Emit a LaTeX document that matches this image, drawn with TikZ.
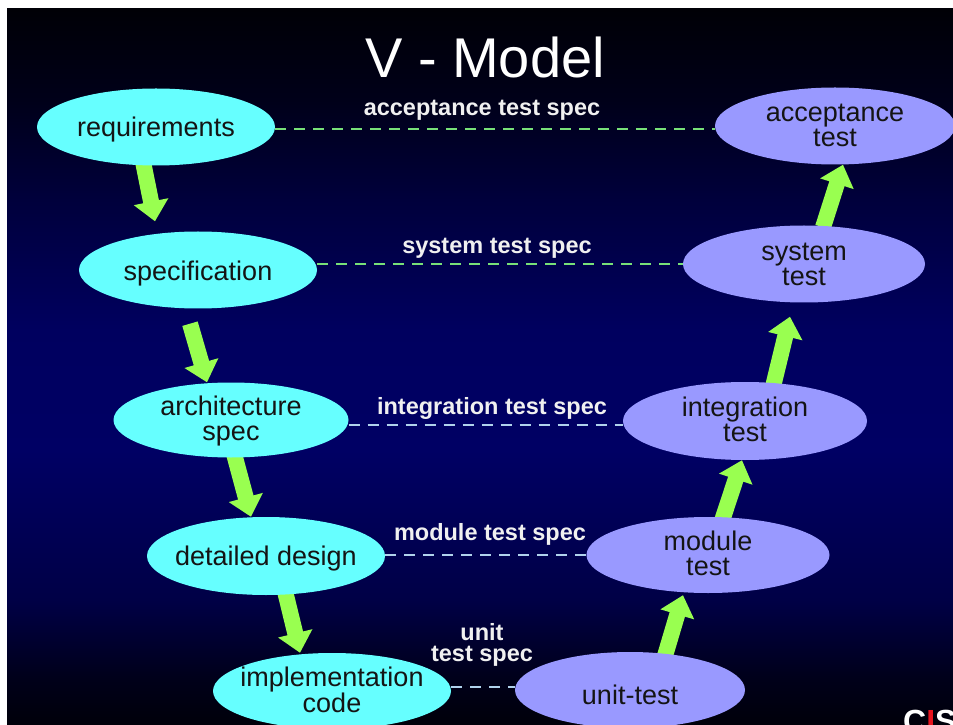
\documentclass[tikz,border=0pt]{standalone}
\usepackage{fontspec}
\setmainfont{Liberation Sans}
\usetikzlibrary{shapes.geometric,arrows.meta}

% palette
\definecolor{cyanfill}{RGB}{102,255,255}
\definecolor{lilacfill}{RGB}{153,153,255}
\definecolor{limearrow}{RGB}{153,255,80}
\definecolor{greendash}{RGB}{120,224,120}
\definecolor{bluedash}{RGB}{176,210,236}
\definecolor{labelgrey}{RGB}{240,240,240}
\definecolor{cisred}{RGB}{230,20,30}
% background stops, bottom to top
\definecolor{bgA}{RGB}{0,0,10}
\definecolor{bgB}{RGB}{0,0,25}
\definecolor{bgC}{RGB}{0,0,70}
\definecolor{bgD}{RGB}{0,0,100}
\definecolor{bgE}{RGB}{0,0,95}
\definecolor{bgF}{RGB}{0,0,60}
\definecolor{bgG}{RGB}{0,0,25}
\definecolor{bgH}{RGB}{0,0,6}

\pgfdeclareverticalshading{vmodelbg}{100bp}{%
  color(0bp)=(bgA); color(25bp)=(bgA); color(28.08bp)=(bgB);
  color(33.67bp)=(bgC); color(44.16bp)=(bgD); color(52.55bp)=(bgE);
  color(61.64bp)=(bgF); color(68.64bp)=(bgG); color(75bp)=(bgH);
  color(100bp)=(bgH)}

\pgfdeclarelayer{bg}
\pgfdeclarelayer{links}
\pgfsetlayers{bg,links,main}

\begin{document}
\begin{tikzpicture}[x=1pt,y=1pt,
  phase/.style={ellipse, fill=cyanfill, inner sep=0pt,
    minimum width=238pt, minimum height=77pt},
  testphase/.style={phase, fill=lilacfill},
  phasetext/.style={inner sep=0pt, align=center, text=black!92,
    font=\fontsize{27}{25}\selectfont},
  speclabel/.style={inner sep=0pt, align=center, text=labelgrey,
    font=\bfseries\fontsize{23.5}{21}\selectfont},
  specline/.style={line width=2pt, dash pattern=on 11pt off 8pt},
  flow/.style={draw=limearrow, line width=16pt,
    -{Triangle[length=20pt,width=34pt]}}]

\useasboundingbox (0,0) rectangle (953,724);

% page margin and graded backdrop
\begin{pgfonlayer}{bg}
  \fill[white] (0,0) rectangle (953,724);
  \shade[shading=vmodelbg] (7,0) rectangle (953,715);
\end{pgfonlayer}

% title
\node[inner sep=0pt, anchor=base, text=white,
  font=\fontsize{56}{60}\selectfont] (title) at (485,646) {V - Model};

% development phases (left leg)
\node[phase] (req) at (156,597) {};
\node[phase] (spec) at (198,454) {};
\node[phase, minimum width=235pt, minimum height=75pt] (arch) at (231,304) {};
\node[phase, minimum height=78pt] (det) at (266,168) {};
\node[phase, minimum height=76pt] (impl) at (332,33) {};

% test phases (right leg)
\node[testphase, minimum width=240pt] (acc) at (835,598) {};
\node[testphase, minimum width=242pt] (sys) at (804,460) {};
\node[testphase, minimum width=244pt, minimum height=78pt] (integ) at (745,303) {};
\node[testphase, minimum width=243pt, minimum height=76pt] (mod) at (708,169) {};
\node[testphase, minimum width=230pt, minimum height=76pt] (unit) at (630,34) {};

% phase names
\node[phasetext] (req-t) at ([yshift=-3pt]req.center) {requirements};
\node[phasetext] (spec-t) at ([yshift=-4pt]spec.center) {specification};
\node[phasetext] (arch-t) at ([yshift=-1pt]arch.center) {architecture\\spec};
\node[phasetext] (det-t) at ([yshift=-3pt]det.center) {detailed design};
\node[phasetext] (impl-t) at ([yshift=1pt]impl.center) {implementation\\code};
\node[phasetext] (acc-t) at ([yshift=1pt]acc.center) {acceptance\\test};
\node[phasetext] (sys-t) at ([yshift=0pt]sys.center) {system\\test};
\node[phasetext] (integ-t) at ([yshift=2pt]integ.center) {integration\\test};
\node[phasetext] (mod-t) at ([yshift=2pt]mod.center) {module\\test};
\node[phasetext] (unit-t) at ([yshift=-5pt]unit.center) {unit-test};

% test specifications linking each level
\node[speclabel] (acc-spec) at (482,614) {acceptance test spec};
\node[speclabel] (sys-spec) at (497,476) {system test spec};
\node[speclabel] (integ-spec) at (492,316) {integration test spec};
\node[speclabel] (mod-spec) at (490,190) {module test spec};
\node[speclabel] (unit-spec) at (482,79) {unit\\test spec};

\begin{pgfonlayer}{links}
  \coordinate (unit-in) at ([yshift=3pt]unit.west);
  \draw[specline, greendash] ([yshift=-2pt]req.east) -- ([yshift=-3pt]acc.west);
  \draw[specline, greendash] (spec.east |- sys.west) -- (sys.west);
  \draw[specline, bluedash] ([yshift=-5pt]arch.east) -- ([yshift=-4pt]integ.west);
  \draw[specline, bluedash] (det.east |- mod.west) -- (mod.west);
  \draw[specline, bluedash] (impl.east |- unit-in) -- (unit-in);

  % downward flow of the design phases
  \draw[flow] ([shift={(-13pt,4pt)}]req.south) -- ([shift={(-43pt,10pt)}]spec.north);
  \draw[flow] ([shift={(-8pt,-15pt)}]spec.south) -- ([xshift=-24pt]arch.north);
  \draw[flow] ([shift={(3pt,4pt)}]arch.south) -- ([xshift=-15pt]det.north);
  \draw[flow] ([shift={(19pt,4pt)}]det.south) -- ([xshift=-32pt]impl.north);

  % upward flow of the test phases
  \draw[flow] ([shift={(35pt,-4pt)}]unit.north) -- ([shift={(-25pt,-2pt)}]mod.south);
  \draw[flow] ([shift={(14pt,-4pt)}]mod.north) -- ([xshift=-3pt]integ.south);
  \draw[flow] ([shift={(27pt,-9pt)}]integ.north) -- ([shift={(-14pt,-14pt)}]sys.south);
  \draw[flow] ([shift={(19pt,-2pt)}]sys.north) -- ([xshift=8pt]acc.south);
\end{pgfonlayer}

% corner logo
\begin{scope}
  \clip (7,0) rectangle (953,715);
  \node[inner sep=0pt, anchor=base west, text=white,
    font=\bfseries\fontsize{32}{34}\selectfont] (logo) at (903,-8)
    {C{\color{cisred}I}S};
\end{scope}

\end{tikzpicture}
\end{document}
